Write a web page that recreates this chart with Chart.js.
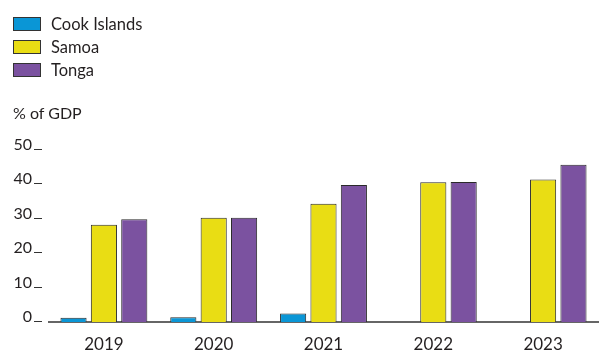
<!DOCTYPE html>
<html>
<head>
<meta charset="utf-8">
<script src="https://cdn.jsdelivr.net/npm/chart.js@4"></script>
<style>
  html, body { margin: 0; padding: 0; background: #fff; }
  #wrap { position: relative; width: 599px; height: 352px; font-family: Lato, "Open Sans", sans-serif; color: #231f20; }
  #chart { position: absolute; left: 0; top: 0; }
  #legend { position: absolute; left: 13px; top: 12px; }
  .item { display: flex; align-items: center; height: 23px; font-size: 16.5px; }
  .box { width: 28px; height: 14px; border: 1px solid #333; margin-right: 10px; box-sizing: border-box; }
  #unit { position: absolute; left: 13px; top: 103px; font-size: 16px; }
</style>
</head>
<body>
<div id="wrap">
  <canvas id="chart" width="599" height="352"></canvas>
  <div id="legend"></div>
  <div id="unit">% of GDP</div>
</div>
<script>
const categories = ["2019", "2020", "2021", "2022", "2023"];
const seriesNames = ["Cook Islands", "Samoa", "Tonga"];
const cookIslands = [1.2, 1.4, 2.5, null, null];
const samoa = [28.2, 30.2, 34.3, 40.5, 41.3];
const tonga = [29.8, 30.2, 39.7, 40.6, 45.6];
const yTicks = [0, 10, 20, 30, 40, 50];
const colors = ["#0a96d6", "#e9dd14", "#7b52a0"];

const seriesValues = [cookIslands, samoa, tonga];

// HTML legend built from series names/colors
const legend = document.getElementById('legend');
seriesNames.forEach((n, i) => {
  const d = document.createElement('div');
  d.className = 'item';
  d.innerHTML = '<span class="box" style="background:' + colors[i] + '"></span><span>' + n + '</span>';
  legend.appendChild(d);
});

const tickDash = {
  id: 'tickDash',
  afterDraw(chart) {
    const y = chart.scales.y;
    const ctx = chart.ctx;
    ctx.save();
    ctx.strokeStyle = '#333';
    ctx.lineWidth = 1;
    y.ticks.forEach(t => {
      const py = Math.round(y.getPixelForValue(t.value)) - 0.5;
      ctx.beginPath();
      ctx.moveTo(34, py);
      ctx.lineTo(42, py);
      ctx.stroke();
    });
    ctx.restore();
  }
};

new Chart(document.getElementById('chart'), {
  type: 'bar',
  data: {
    labels: categories,
    datasets: seriesNames.map((n, i) => ({
      label: n,
      data: seriesValues[i],
      backgroundColor: colors[i],
      borderColor: '#2a2a2a',
      borderWidth: 1,
      borderSkipped: 'bottom',
      categoryPercentage: 0.83,
      barPercentage: 0.86
    }))
  },
  options: {
    responsive: false,
    animation: false,
    events: [],
    layout: { padding: { top: 149.5, right: 1, left: 0, bottom: 0 } },
    plugins: { legend: { display: false }, tooltip: { enabled: false } },
    scales: {
      x: {
        afterFit(scale) { scale.height = 30; },
        grid: { display: false, drawTicks: false },
        border: { display: true, color: '#666', width: 2 },
        ticks: { color: '#231f20', font: { family: 'Lato', size: 17 }, padding: 12 }
      },
      y: {
        min: 0, max: 50,
        afterBuildTicks(scale) { scale.ticks = yTicks.map(v => ({ value: v })); },
        afterFit(scale) { scale.width = 49; },
        grid: { display: false, drawTicks: false },
        border: { display: false },
        ticks: { color: '#231f20', font: { family: 'Lato', size: 16 }, padding: 17, labelOffset: -5 }
      }
    }
  },
  plugins: [tickDash]
});
</script>
</body>
</html>
